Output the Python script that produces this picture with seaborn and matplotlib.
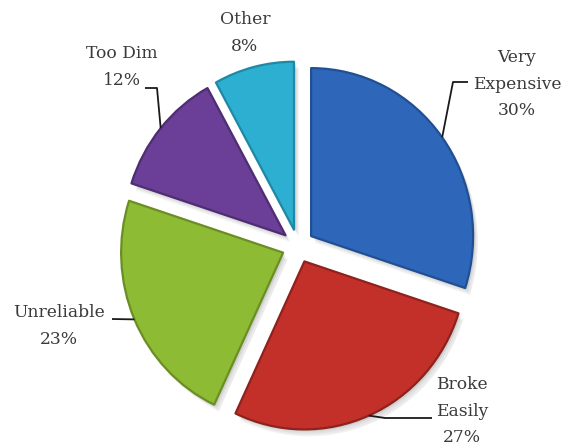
import matplotlib
matplotlib.use("Agg")
import matplotlib.pyplot as plt
import numpy as np
import seaborn as sns

# Reasons given for returning the product (share of responses, %)
reasons = ["Very\nExpensive", "Broke\nEasily", "Unreliable", "Too Dim", "Other"]
shares = [30, 27, 23, 12, 8]

fill_colors = ["#2E67BA", "#C3302A", "#8DBB34", "#6B3E98", "#2CAFD0"]
rim_colors = ["#214F93", "#8E221D", "#6A8E24", "#4E2D71", "#1F88A4"]

sns.set_theme(style="white")
plt.rcParams["font.family"] = ["DejaVu Serif", "DejaVu Sans"]

W, H = 566, 448
CX, CY = 298, 246      # pie centre in pixels (y measured from top)
RX, RY = 162, 168      # pie radii in pixels


def px(x, y):
    """Pixel position -> data coordinates of the pie axes."""
    return (x - CX) / RX, (CY - y) / RY


fig = plt.figure(figsize=(W / 100, H / 100), dpi=100)
ax = fig.add_axes([0, 0, 1, 1])
explode = [0.1] * len(shares)

# soft drop shadow: stacked translucent copies of the pie
for dx, dy in [(0.012, -0.015), (0.02, -0.025), (0.03, -0.035), (0.015, -0.01), (0.028, -0.042)]:
    ax.pie(shares, startangle=90, counterclock=False, explode=explode,
           colors=["#000000"] * len(shares), center=(dx, dy),
           wedgeprops=dict(alpha=0.04, linewidth=0))

wedges, _ = ax.pie(shares, startangle=90, counterclock=False, explode=explode,
                   colors=fill_colors,
                   wedgeprops=dict(linewidth=1.6))
for w, rim in zip(wedges, rim_colors):
    w.set_edgecolor(rim)
    w.set_joinstyle("round")

# label centres and leader knee/end points (pixels)
label_pos = [(517, 84), (462, 411), (59, 326), (122, 67), (245, 33)]
leaders = [
    [(453, 82), (468, 82)],
    [(385, 418), (432, 418)],
    [(112, 319)],
    [(157, 88), (145, 88)],
    None,
]

text_color = "#3A3A3A"
for w, name, share, pos, lead in zip(wedges, reasons, shares, label_pos, leaders):
    lx, ly = px(*pos)
    ax.text(lx, ly, f"{name}\n{share}%", ha="center", va="center",
            fontsize=12.3, color=text_color, linespacing=1.75)
    if lead is None:
        continue
    theta = np.deg2rad((w.theta1 + w.theta2) / 2)
    cx, cy = w.center
    xs = [cx + np.cos(theta)] + [px(*p)[0] for p in lead]
    ys = [cy + np.sin(theta)] + [px(*p)[1] for p in lead]
    ax.plot(xs, ys, color="#1A1A1A", lw=1.3, solid_capstyle="butt")

ax.set_aspect("auto")
ax.set_xlim(-CX / RX, (W - CX) / RX)
ax.set_ylim((CY - H) / RY, CY / RY)
ax.axis("off")

fig.savefig("out.png", dpi=100, facecolor="white")
